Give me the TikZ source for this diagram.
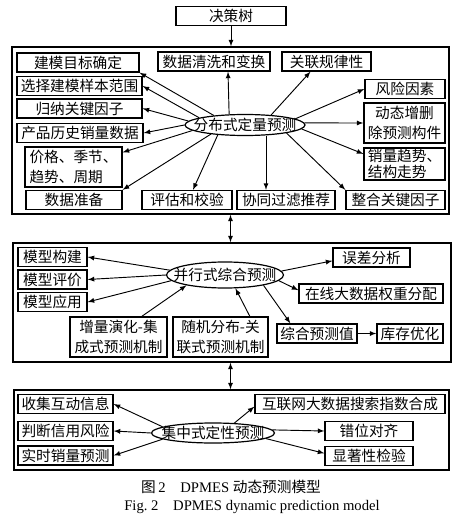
\documentclass[tikz,border=0pt]{standalone}
\usepackage{fontspec}
\setmainfont{Liberation Serif}
\newfontfamily\cjk{Noto Sans CJK SC}
\usetikzlibrary{shapes.geometric}

\tikzset{
  kuang/.style={draw, line width=1pt, minimum width=#1*0.75pt, minimum height=14.25pt,
    inner sep=1pt, align=center, font=\cjk\fontsize{11}{15}\selectfont},
  tuoyuan/.style 2 args={draw, ellipse, line width=0.9pt, minimum width=#1*0.75pt,
    minimum height=#2*0.75pt, inner sep=0pt, font=\cjk\fontsize{11}{15}\selectfont},
  kuangjia/.style 2 args={draw, line width=1pt, minimum width=#1*0.75pt,
    minimum height=#2*0.75pt, inner sep=0pt},
  jt/.style={-latex, line width=0.7pt},
  sjt/.style={latex-latex, line width=0.7pt}
}

\begin{document}
\begin{tikzpicture}[x=0.75pt,y=-0.75pt]
\useasboundingbox (0,0) rectangle (474,524);

    % 决策树和三个大框
    \node[kuang=110] (jcs) at (231,16) {决策树};
    \node[kuangjia={437}{167}] (k1) at (230.5,130.5) {};
    \node[kuangjia={438}{119}] (k2) at (232,302.5) {};
    \node[kuangjia={435}{80}] (k3) at (231.5,430) {};
    \draw[jt] (jcs.south) -- (jcs.south |- k1.north);
    \draw[sjt] (k1.south) -- (k1.south |- k2.north);
    \draw[sjt] (k1.south |- k2.south) -- (k1.south |- k3.north);

    % 分布式定量预测
    \node[tuoyuan={120}{21}] (dl) at (245,125) {\makebox[0pt]{分布式定量预测}};
    \node[kuang=122] (mb1) at (78,62.5) {建模目标确定};
    \node[kuang=112] (sj) at (214,61.5) {数据清洗和变换};
    \node[kuang=89] (gl) at (326.5,61.5) {关联规律性};
    \node[kuang=125] (mb2) at (79.5,86) {选择建模样本范围};
    \node[kuang=80] (fx) at (405,89) {风险因素};
    \node[kuang=125] (mb3) at (79.5,108.5) {归纳关键因子};
    \node[kuang=81, minimum height=30pt] (dt) at (404.5,123) {动态增删\\除预测构件};
    \node[kuang=126] (mb4) at (80,133) {产品历史销量数据};
    \node[kuang=97, minimum height=30pt, align=left] (jg) at (73.5,167) {价格、季节、\\趋势、周期};
    \node[kuang=81, minimum height=24pt, align=left, font=\cjk\fontsize{11}{12}\selectfont]
      (xl) at (404.5,164) {销量趋势、\\结构走势};
    \node[kuang=96] (zb) at (74,200) {数据准备};
    \node[kuang=90] (pg) at (187,200) {评估和校验};
    \node[kuang=98] (xt) at (286,200) {协同过滤推荐};
    \node[kuang=99] (zh) at (395.5,200) {整合关键因子};

    \draw[jt] (dl.163) -- (mb1.south east);
    \draw[jt] (dl.171) -- (mb2.east);
    \draw[jt] (dl.176) -- (mb3.east);
    \draw[jt] (dl.180) -- (mb4.east);
    \draw[jt] (dl.186) -- ([yshift=-4.5pt]jg.north east);
    \draw[jt] (dl.195) -- (zb.north east);
    \draw[jt] (dl.200) -- ([xshift=4.5pt]pg.north);
    \coordinate (t8) at ([xshift=-15pt]xt.north);
    \draw[jt] (t8 |- dl.south) -- (t8);
    \draw[jt] (dl.-11) -- (zh.north west);
    \draw[jt] (dl.-4) -- ([yshift=-5pt]xl.north west);
    \draw[jt] (dl.2) -- (dt.west);
    \draw[jt] (dl.7) -- (fx.west);
    \draw[jt] (dl.21) -- ([xshift=-12pt]gl.south);
    \draw[jt] (dl.146) -- ([xshift=10.5pt]sj.south);

    % 并行式综合预测
    \node[tuoyuan={117}{26}] (bx) at (225,275) {\makebox[0pt]{并行式综合预测}};
    \node[kuang=69] (mx1) at (52.5,257) {模型构建};
    \node[kuang=69] (mx2) at (52.5,279.5) {模型评价};
    \node[kuang=69] (mx3) at (52.5,302) {模型应用};
    \node[kuang=77] (wc) at (371.5,257.5) {误差分析};
    \node[kuang=144] (zx) at (371,293.5) {在线大数据权重分配};
    \node[kuang=97, minimum height=30pt] (zl) at (118.5,337) {增量演化-集\\成式预测机制};
    \node[kuang=95, minimum height=30pt] (sj2) at (220.5,337) {随机分布-关\\联式预测机制};
    \node[kuang=80] (zh2) at (317,333.5) {综合预测值};
    \node[kuang=66] (kc) at (410,333.5) {库存优化};

    \draw[jt] (bx.175) -- (mx1.east);
    \draw[jt] (bx.180) -- (mx2.east);
    \draw[jt] (bx.186) -- (mx3.east);
    \draw[jt] ([xshift=17.5pt]zl.north) -- (bx.195);
    \draw[jt] ([xshift=22pt]sj2.north) -- (bx.-52);
    \draw[jt] (bx.4) -- ([yshift=-2.5pt]wc.west);
    \draw[jt] (bx.-6) -- ([yshift=2.5pt]zx.west);
    \draw[jt] (bx.-15) -- ([xshift=-20pt]zh2.north);
    \draw[jt] (zh2) -- (kc);

    % 集中式定性预测
    \node[tuoyuan={123}{20}] (dx) at (213,433) {\makebox[0pt]{集中式定性预测}};
    \node[kuang=95] (sj3) at (65.5,404) {收集互动信息};
    \node[kuang=95] (pd) at (65.5,431) {判断信用风险};
    \node[kuang=95] (ss) at (65.5,455.5) {实时销量预测};
    \node[kuang=190] (hl) at (350,404) {互联网大数据搜索指数合成};
    \node[kuang=88] (cw) at (369,431) {错位对齐};
    \node[kuang=88] (xz) at (369,456) {显著性检验};

    \draw[jt] (dx.173) -- (sj3.east);
    \draw[jt] (dx.180) -- (pd.east);
    \draw[jt] (dx.187) -- (ss.east);
    \draw[jt] (dx.25) -- ([yshift=-2pt]hl.west);
    \draw[jt] (dx.3) -- (cw.west);
    \draw[jt] (dx.-6) -- ([yshift=2pt]xz.west);

    % 图题
    \node[font=\fontsize{11}{13}\selectfont] (tt) at (231,487) {{\cjk 图}\,2\quad DPMES {\cjk 动态预测模型}};
    \node[font=\fontsize{11}{13}\selectfont] (et) at (252,507) {Fig.~2\quad DPMES dynamic prediction model};

\end{tikzpicture}
\end{document}
